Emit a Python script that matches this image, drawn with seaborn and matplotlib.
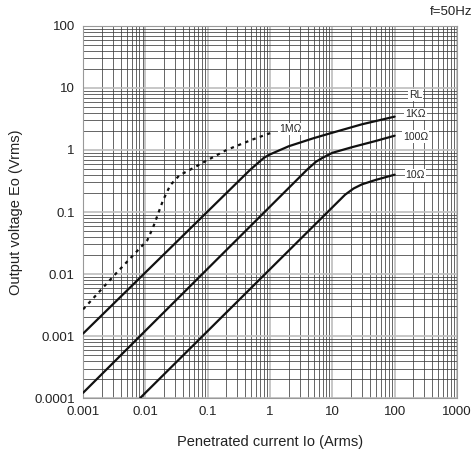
import matplotlib
matplotlib.use("Agg")
import matplotlib.pyplot as plt
import matplotlib.ticker as mticker
import seaborn as sns
import pandas as pd

# Data (log-log)
x_1M = [0.001, 0.0033, 0.0107, 0.0133, 0.0192, 0.025, 0.035, 0.05, 0.1, 0.2, 0.5, 1.05]
y_1M = [0.0027, 0.01, 0.035, 0.057, 0.155, 0.27, 0.39, 0.47, 0.69, 1.0, 1.45, 1.9]

x_1K = [0.001, 0.48, 0.8, 1.0, 2, 5, 10, 30, 100]
y_1K = [0.0011, 0.48, 0.75, 0.85, 1.15, 1.55, 1.9, 2.6, 3.45]

x_100 = [0.001, 4, 5.5, 7, 10, 20, 50, 100]
y_100 = [0.000122, 0.49, 0.65, 0.75, 0.9, 1.1, 1.4, 1.7]

x_10 = [0.0082, 16, 22, 30, 50, 100]
y_10 = [0.0001, 0.19, 0.24, 0.28, 0.33, 0.4]

series_labels = ["1MΩ", "1KΩ", "100Ω", "10Ω"]
x_ticks = [0.001, 0.01, 0.1, 1, 10, 100, 1000]
x_ticklabels = ["0.001", "0.01", "0.1", "1", "10", "100", "1000"]
y_ticks = [0.0001, 0.001, 0.01, 0.1, 1, 10, 100]
y_ticklabels = ["0.0001", "0.001", "0.01", "0.1", "1", "10", "100"]

sns.set_style("white")
plt.rcParams['font.family'] = ['Liberation Sans', 'DejaVu Sans']

fig = plt.figure(figsize=(4.75, 4.55), dpi=100)
ax = fig.add_axes([0.175, 0.125, 0.787, 0.818])

ax.set_xscale("log")
ax.set_yscale("log")
ax.set_xlim(0.001, 1000)
ax.set_ylim(0.0001, 100)

df1 = pd.DataFrame({"x": x_1M, "y": y_1M})
df2 = pd.DataFrame({"x": x_1K, "y": y_1K})
df3 = pd.DataFrame({"x": x_100, "y": y_100})
df4 = pd.DataFrame({"x": x_10, "y": y_10})

sns.lineplot(data=df1, x="x", y="y", ax=ax, color="#111111", lw=1.6,
             linestyle=(0, (1.5, 2.0)), sort=False, zorder=5)
for d in (df2, df3, df4):
    sns.lineplot(data=d, x="x", y="y", ax=ax, color="#111111", lw=1.6,
                 sort=False, zorder=5)

ax.xaxis.set_major_locator(mticker.FixedLocator(x_ticks))
ax.yaxis.set_major_locator(mticker.FixedLocator(y_ticks))
ax.xaxis.set_minor_locator(mticker.LogLocator(base=10, subs=range(2, 10), numticks=100))
ax.yaxis.set_minor_locator(mticker.LogLocator(base=10, subs=range(2, 10), numticks=100))
ax.xaxis.set_minor_formatter(mticker.NullFormatter())
ax.yaxis.set_minor_formatter(mticker.NullFormatter())
ax.set_xticklabels(x_ticklabels)
ax.set_yticklabels(y_ticklabels)

ax.grid(which="minor", color="#3c3c3c", lw=0.55)
ax.grid(which="major", color="#bdbdbd", lw=1.2)
ax.set_axisbelow(True)
ax.tick_params(which="both", length=0, labelsize=9.5, pad=6, colors="#222222")
for s in ax.spines.values():
    s.set_color("#999999")
    s.set_linewidth(0.8)

ax.set_xlabel("Penetrated current Io (Arms)", fontsize=10.5, labelpad=12, color="#222222")
ax.set_ylabel("Output voltage Eo (Vrms)", fontsize=10.5, labelpad=8, color="#222222")

bbox = dict(facecolor="white", edgecolor="none", pad=0.8)
ax.text(215, 7.7, "RL", fontsize=7.5, ha="center", va="center", bbox=bbox, zorder=6)
ax.text(215, 3.8, series_labels[1], fontsize=7.5, ha="center", va="center", bbox=bbox, zorder=6)
ax.text(215, 1.65, series_labels[2], fontsize=7.5, ha="center", va="center", bbox=bbox, zorder=6)
ax.text(215, 0.39, series_labels[3], fontsize=7.5, ha="center", va="center", bbox=bbox, zorder=6)
ax.text(2.1, 2.2, series_labels[0], fontsize=7.5, ha="center", va="center", bbox=bbox, zorder=6)

fig.text(0.995, 0.973, "f=50Hz", fontsize=9.5, ha="right", va="center", color="#222222")

fig.savefig("out.png", dpi=100)
